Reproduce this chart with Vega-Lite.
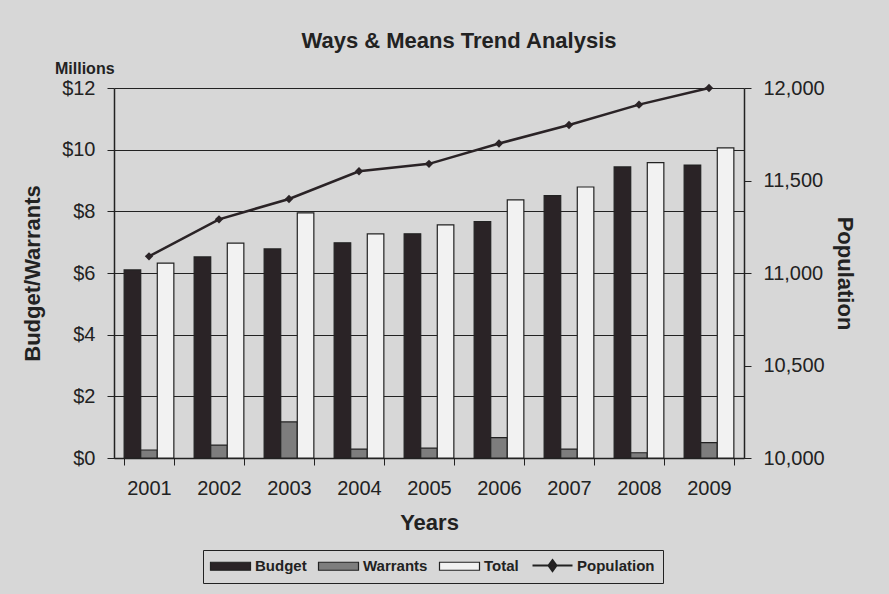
{
  "$schema": "https://vega.github.io/schema/vega-lite/v6.json",
  "width": 630,
  "height": 370,
  "autosize": {"type": "none"},
  "padding": {"left": 114, "top": 88, "right": 145, "bottom": 136},
  "background": "#d7d7d7",
  "title": {
    "text": "Ways & Means Trend Analysis",
    "font": "Liberation Sans",
    "fontSize": 22,
    "fontWeight": "bold",
    "color": "#222222",
    "anchor": "middle",
    "frame": "group",
    "dx": 30,
    "offset": 8
  },
  "datasets": {
    "money": [
      {"year": "2001", "series": "Budget", "value": 6.10},
      {"year": "2001", "series": "Warrants", "value": 0.26},
      {"year": "2001", "series": "Total", "value": 6.32},
      {"year": "2002", "series": "Budget", "value": 6.52},
      {"year": "2002", "series": "Warrants", "value": 0.42},
      {"year": "2002", "series": "Total", "value": 6.97},
      {"year": "2003", "series": "Budget", "value": 6.78},
      {"year": "2003", "series": "Warrants", "value": 1.17},
      {"year": "2003", "series": "Total", "value": 7.95},
      {"year": "2004", "series": "Budget", "value": 6.98},
      {"year": "2004", "series": "Warrants", "value": 0.29},
      {"year": "2004", "series": "Total", "value": 7.27},
      {"year": "2005", "series": "Budget", "value": 7.27},
      {"year": "2005", "series": "Warrants", "value": 0.32},
      {"year": "2005", "series": "Total", "value": 7.56},
      {"year": "2006", "series": "Budget", "value": 7.67},
      {"year": "2006", "series": "Warrants", "value": 0.66},
      {"year": "2006", "series": "Total", "value": 8.37},
      {"year": "2007", "series": "Budget", "value": 8.51},
      {"year": "2007", "series": "Warrants", "value": 0.29},
      {"year": "2007", "series": "Total", "value": 8.79},
      {"year": "2008", "series": "Budget", "value": 9.44},
      {"year": "2008", "series": "Warrants", "value": 0.17},
      {"year": "2008", "series": "Total", "value": 9.58},
      {"year": "2009", "series": "Budget", "value": 9.50},
      {"year": "2009", "series": "Warrants", "value": 0.50},
      {"year": "2009", "series": "Total", "value": 10.06}
    ],
    "pop": [
      {"year": "2001", "population": 11090},
      {"year": "2002", "population": 11290},
      {"year": "2003", "population": 11400},
      {"year": "2004", "population": 11550},
      {"year": "2005", "population": 11590},
      {"year": "2006", "population": 11700},
      {"year": "2007", "population": 11800},
      {"year": "2008", "population": 11910},
      {"year": "2009", "population": 12000}
    ],
    "note": [{"label": "Millions"}]
  },
  "encoding": {
    "x": {
      "field": "year",
      "type": "nominal",
      "scale": {"paddingInner": 0.29, "paddingOuter": 0.145},
      "axis": {
        "title": "Years",
        "titleFont": "Liberation Sans",
        "titleFontSize": 22,
        "titleFontWeight": "bold",
        "titleColor": "#222222",
        "titlePadding": 14,
        "labelFont": "Liberation Sans",
        "labelFontSize": 20,
        "labelColor": "#222222",
        "labelAngle": 0,
        "labelPadding": 13,
        "tickBand": "extent",
        "tickSize": 7,
        "tickColor": "#222222",
        "domainColor": "#222222",
        "domainWidth": 1.5,
        "grid": false
      }
    }
  },
  "layer": [
    {
      "data": {"name": "money"},
      "mark": {"type": "bar", "stroke": "#222222", "strokeWidth": 1.2},
      "encoding": {
        "xOffset": {
          "field": "series",
          "type": "nominal",
          "scale": {"domain": ["Budget", "Warrants", "Total"], "paddingInner": 0, "paddingOuter": 0}
        },
        "y": {
          "field": "value",
          "type": "quantitative",
          "scale": {"domain": [0, 12], "nice": false},
          "axis": {
            "orient": "left",
            "values": [0, 2, 4, 6, 8, 10, 12],
            "labelExpr": "'$' + datum.value",
            "title": "Budget/Warrants",
            "titleFont": "Liberation Sans",
            "titleFontSize": 22,
            "titleFontWeight": "bold",
            "titleColor": "#222222",
            "titlePadding": 17,
            "labelFont": "Liberation Sans",
            "labelFontSize": 20,
            "labelColor": "#222222",
            "labelPadding": 12,
            "tickSize": 7,
            "tickColor": "#222222",
            "domainColor": "#222222",
            "domainWidth": 1.5,
            "grid": true,
            "gridColor": "#222222",
            "gridWidth": 1.2
          }
        },
        "fill": {
          "field": "series",
          "type": "nominal",
          "scale": {
            "domain": ["Budget", "Warrants", "Total", "Population"],
            "range": ["#2a2326", "#7d7d7d", "#f2f2f2", "#2a2326"]
          },
          "legend": {
            "title": null,
            "orient": "none",
            "legendX": 89,
            "legendY": 462,
            "direction": "horizontal",
            "strokeColor": "#222222",
            "padding": 8,
            "labelFont": "Liberation Sans",
            "labelFontSize": 15,
            "labelFontWeight": "bold",
            "labelColor": "#222222",
            "labelOffset": 17,
            "columnPadding": 9,
            "symbolOffset": 12,
            "symbolSize": 1600,
            "symbolStrokeColor": "#222222",
            "symbolStrokeWidth": 1.2,
            "encode": {
              "symbols": {
                "update": {
                  "shape": {"signal": "datum.value === 'Population' ? 'M-1,0H1M0,-0.27L0.2,0L0,0.27L-0.2,0Z' : 'M-1,-0.2H1V0.2H-1Z'"},
                  "strokeWidth": {"signal": "datum.value === 'Population' ? 2 : 1.2"},
                  "stroke": {"value": "#222222"}
                }
              }
            }
          }
        }
      }
    },
    {
      "data": {"name": "pop"},
      "mark": {
        "type": "line",
        "color": "#2a2326",
        "strokeWidth": 2.5,
        "point": {"shape": "diamond", "filled": true, "size": 70, "color": "#2a2326"}
      },
      "encoding": {
        "y": {
          "field": "population",
          "type": "quantitative",
          "scale": {"domain": [10000, 12000], "nice": false},
          "axis": {
            "orient": "right",
            "values": [10000, 10500, 11000, 11500, 12000],
            "format": ",.0f",
            "title": "Population",
            "titleFont": "Liberation Sans",
            "titleFontSize": 22,
            "titleFontWeight": "bold",
            "titleColor": "#222222",
            "titlePadding": 8,
            "labelFont": "Liberation Sans",
            "labelFontSize": 20,
            "labelColor": "#222222",
            "labelPadding": 12,
            "tickSize": 7,
            "tickColor": "#222222",
            "domainColor": "#222222",
            "domainWidth": 1.5,
            "grid": false
          }
        }
      }
    },
    {
      "data": {"name": "note"},
      "mark": {
        "type": "text",
        "font": "Liberation Sans",
        "fontSize": 16,
        "fontWeight": "bold",
        "color": "#222222",
        "align": "left",
        "baseline": "alphabetic",
        "dx": -94,
        "dy": -14
      },
      "encoding": {
        "text": {"field": "label"},
        "x": {"datum": "2001", "type": "nominal"},
        "y": {"datum": 12, "type": "quantitative", "scale": {"domain": [0, 12], "nice": false}, "axis": null}
      }
    }
  ],
  "resolve": {"scale": {"y": "independent"}},
  "config": {"view": {"stroke": null}}
}
